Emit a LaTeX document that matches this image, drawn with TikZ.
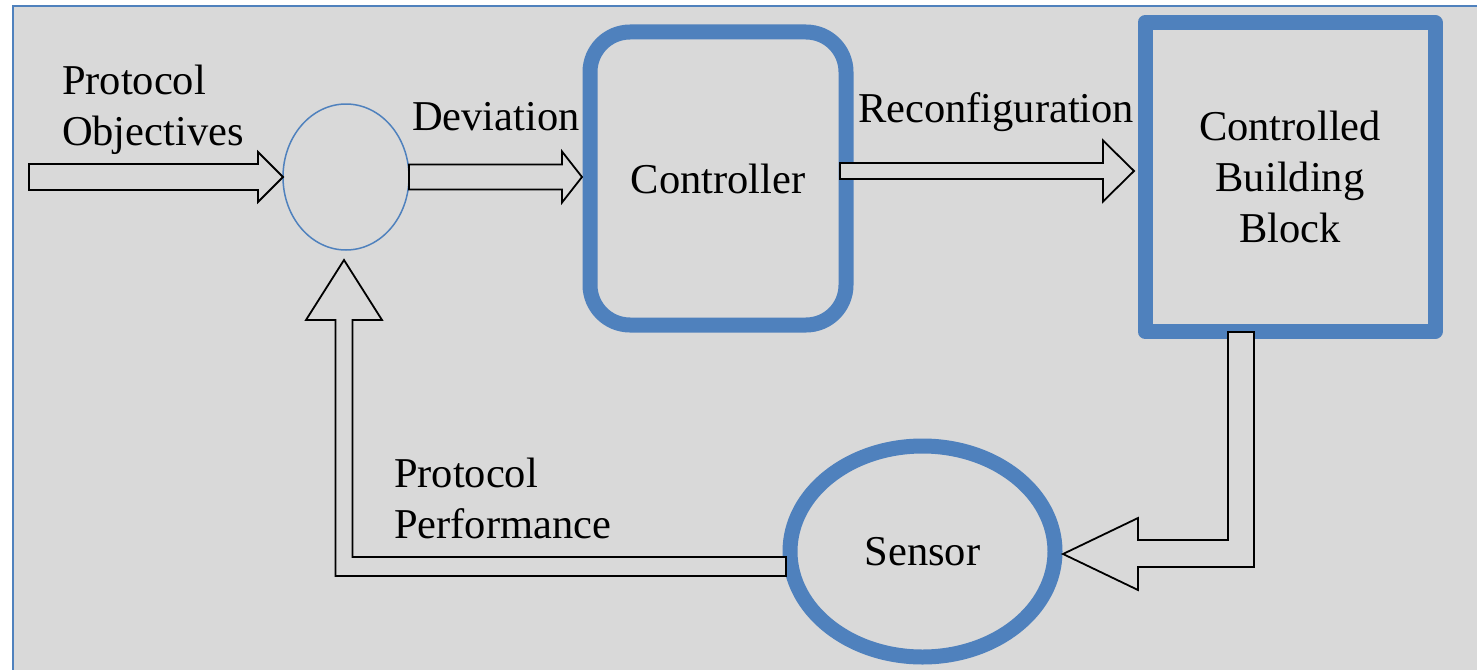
\documentclass[tikz,border=0pt]{standalone}
\usepackage{fontspec}
\setmainfont{Liberation Serif}
\newfontfamily\tnr{Liberation Serif}
\usetikzlibrary{shapes.geometric,calc}
\definecolor{ofblue}{HTML}{4F81BD}
\definecolor{bggray}{HTML}{D9D9D9}
\pgfdeclarelayer{back}
\pgfsetlayers{back,main}
\begin{document}
\begin{tikzpicture}[x=1pt,y=-1pt,
  every node/.style={font=\tnr\fontsize{42.5}{51}\selectfont, inner sep=0pt, outer sep=0pt},
  bluebox/.style={draw=ofblue, line width=15pt},
  blockarrow/.style={draw=black, line width=1.8pt, fill=bggray, line join=miter},
  lbl/.style={anchor=base west, align=left}]
\useasboundingbox (0,0) rectangle (1477,669);
\begin{pgfonlayer}{back}
  \fill[white] (0,0) rectangle (1477,669);
  \fill[bggray] (13,6) rectangle (1480,672);
  \draw[ofblue, line width=2pt] (13,672) -- (13,6) -- (1480,6);
\end{pgfonlayer}

% nodes
\node[ellipse, draw=ofblue, line width=1.5pt, minimum width=126pt, minimum height=146pt] (sum) at (346,177) {};
\node[bluebox, rounded corners=40pt, minimum width=256pt, minimum height=293pt] (ctrl) at (718,178.5) {Controller};
\node[bluebox, line join=round, minimum width=290pt, minimum height=309pt, align=center] (cbb) at (1290,177) {Controlled\\Building\\Block};
\node[bluebox, ellipse, minimum width=265pt, minimum height=211pt] (sensor) at (922.5,551.5) {Sensor};

% labels (base anchor = baseline of last line)
\node[lbl] (objlbl) at (62,145) {Protocol\\Objectives};
\node[lbl] (devlbl) at (412,130) {Deviation};
\node[lbl] (reclbl) at (858,122) {Reconfiguration};
\node[lbl] (perflbl) at (394,538) {Protocol\\Performance};

% arrow 1: objectives -> sum
\coordinate (objin) at (29,177);
\draw[blockarrow] ($(objin)+(0,-13)$) -- ($(sum.west)+(-25,-13)$) -- ($(sum.west)+(-25,-25)$) -- (sum.west)
  -- ($(sum.west)+(-25,25)$) -- ($(sum.west)+(-25,13)$) -- ($(objin)+(0,13)$) -- cycle;

% arrow 2: sum -> controller
\coordinate (t2) at ($(ctrl.west)+(-8,-1.5)$);
\draw[blockarrow] ($(sum.east)+(0,-12.5)$) -- ($(t2)+(-20,-12.5)$) -- ($(t2)+(-20,-25.5)$) -- (t2)
  -- ($(t2)+(-20,25.5)$) -- ($(t2)+(-20,12.5)$) -- ($(sum.east)+(0,12.5)$) -- cycle;

% arrow 3: controller -> controlled building block
\coordinate (s3) at ($(ctrl.east)+(-6,-7.5)$);
\coordinate (t3) at ($(cbb.west)+(-11,-6)$);
\draw[blockarrow] ($(s3)+(0,-8)$) -- ($(t3)+(-31,-8)$) -- ($(t3)+(-31,-30.5)$) -- (t3)
  -- ($(t3)+(-31,30.5)$) -- ($(t3)+(-31,8)$) -- ($(s3)+(0,8)$) -- cycle;

% arrow 4: controlled building block -> sensor
\coordinate (s4) at ($(cbb.south)+(-49,0.5)$);
\coordinate (t4) at ($(sensor.east)+(8,2.5)$);
\coordinate (c4) at (s4 |- t4);
\draw[blockarrow] ($(s4)+(-13,0)$) -- ($(s4)+(13,0)$) -- ($(c4)+(13,13)$) -- ($(t4)+(75,13)$)
  -- ($(t4)+(75,36)$) -- (t4) -- ($(t4)+(75,-36)$) -- ($(t4)+(75,-14)$) -- ($(c4)+(-13,-14)$) -- cycle;

% arrow 5: sensor -> sum
\coordinate (s5) at ($(sensor.west)+(-4,15)$);
\coordinate (t5) at ($(sum.south)+(-2,10)$);
\coordinate (c5) at (t5 |- s5);
\draw[blockarrow] ($(s5)+(0,-9.5)$) -- ($(c5)+(8.5,-9.5)$) -- ($(t5)+(8.5,60)$) -- ($(t5)+(38,60)$)
  -- (t5) -- ($(t5)+(-38,60)$) -- ($(t5)+(-8.5,60)$) -- ($(c5)+(-8.5,9.5)$) -- ($(s5)+(0,9.5)$) -- cycle;
\end{tikzpicture}
\end{document}
